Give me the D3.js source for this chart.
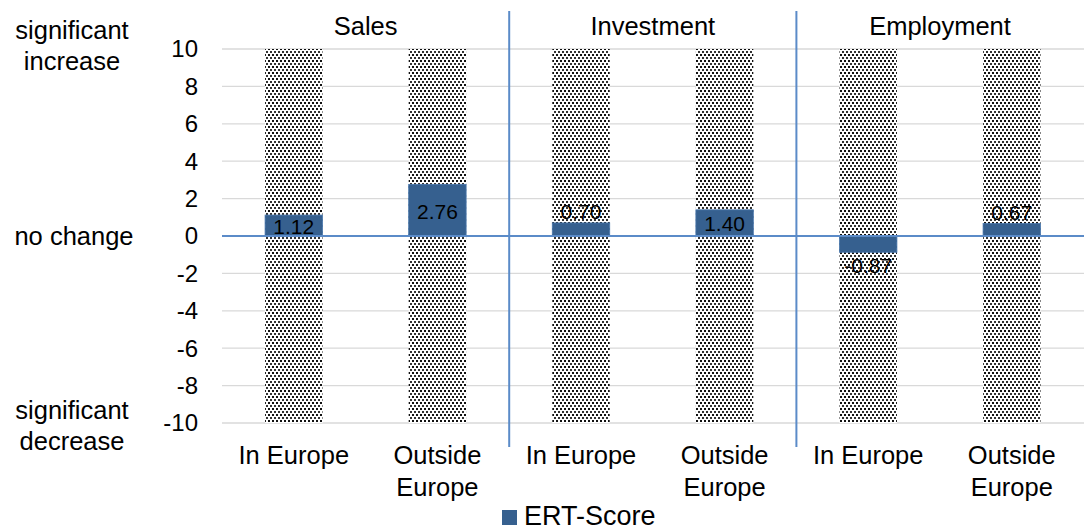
<!DOCTYPE html>
<html>
<head>
<meta charset="utf-8">
<script src="https://cdn.jsdelivr.net/npm/d3@7"></script>
<style>
  html, body { margin: 0; padding: 0; background: #fff; }
  svg { display: block; font-family: "Liberation Sans", Arial, sans-serif; }
</style>
</head>
<body>
<svg id="chart" width="1084" height="528"></svg>
<script>
// ERT scores by indicator and region
const groups = ["Sales", "Investment", "Employment"];
const categories = ["In Europe", "Outside Europe", "In Europe", "Outside Europe", "In Europe", "Outside Europe"];
const categoryGroup = ["Sales", "Sales", "Investment", "Investment", "Employment", "Employment"];
const scores = [1.12, 2.76, 0.70, 1.40, -0.87, 0.67];
const yTicks = [10, 8, 6, 4, 2, 0, -2, -4, -6, -8, -10];
const sideLabels = [
  { value: 10, lines: ["significant", "increase"] },
  { value: 0, lines: ["no change"] },
  { value: -10, lines: ["significant", "decrease"] }
];
const seriesName = "ERT-Score";

const svg = d3.select("#chart");
const margin = { left: 222 };
const blue = "#36608f";
const axisBlue = "#5b8bc8";

const x = d3.scaleBand()
  .domain(d3.range(categories.length))
  .range([margin.left, 1083.6])
  .paddingInner(0.6).paddingOuter(0.3);
const y = d3.scaleLinear().domain([-10, 10]).range([423, 49]);

// dotted fill for the full-range background columns
const defs = svg.append("defs");
const pat = defs.append("pattern")
  .attr("id", "dots").attr("patternUnits", "userSpaceOnUse")
  .attr("width", 4).attr("height", 6);
pat.append("rect").attr("width", 4).attr("height", 6).attr("fill", "#fff");
pat.append("rect").attr("x", 0).attr("y", 0).attr("width", 2).attr("height", 2).attr("fill", "#111");
pat.append("rect").attr("x", 2).attr("y", 3).attr("width", 2).attr("height", 2).attr("fill", "#333");

// horizontal gridlines
svg.append("g").selectAll("line").data(yTicks.filter(d => d !== 0)).join("line")
  .attr("x1", margin.left).attr("x2", 1084)
  .attr("y1", d => y(d)).attr("y2", d => y(d))
  .attr("stroke", "#d9d9d9").attr("stroke-width", 1.3);

// y tick labels
svg.append("g").selectAll("text").data(yTicks).join("text")
  .attr("x", 198).attr("y", d => y(d)).attr("dy", "0.35em")
  .attr("text-anchor", "end").attr("font-size", 24).attr("fill", "#000")
  .text(d => d);

// descriptive labels on the left
sideLabels.forEach(s => {
  const n = s.lines.length;
  const lh = 31;
  const y0 = s.value === 10 ? 30 : s.value === -10 ? 410 : y(s.value);
  s.lines.forEach((l, i) => {
    svg.append("text")
      .attr("x", s.value === 0 ? 74 : 72)
      .attr("y", (n === 1 ? y0 : y0 + i * lh))
      .attr("dy", "0.35em").attr("text-anchor", "middle")
      .attr("font-size", 25.5).attr("fill", "#000").text(l);
  });
});

// background columns spanning the full scale
svg.append("g").selectAll("rect").data(scores).join("rect")
  .attr("x", (d, i) => x(i)).attr("width", x.bandwidth())
  .attr("y", y(10)).attr("height", y(-10) - y(10))
  .attr("fill", "url(#dots)");

// score bars
svg.append("g").selectAll("rect").data(scores).join("rect")
  .attr("x", (d, i) => x(i)).attr("width", x.bandwidth())
  .attr("y", d => y(Math.max(0, d)))
  .attr("height", d => Math.abs(y(d) - y(0)))
  .attr("fill", blue).attr("stroke", "#4a78ad").attr("stroke-width", 0.8);

// zero line
svg.append("line")
  .attr("x1", margin.left).attr("x2", 1084)
  .attr("y1", y(0)).attr("y2", y(0))
  .attr("stroke", axisBlue).attr("stroke-width", 2);

// group separators
const step = x.step();
[1, 2].forEach(k => {
  const xs = x(2 * k) - x.paddingInner() * step / 2;
  svg.append("line")
    .attr("x1", xs).attr("x2", xs).attr("y1", 11).attr("y2", 447)
    .attr("stroke", axisBlue).attr("stroke-width", 2);
});

// group titles
groups.forEach(g => {
  const idx = categoryGroup.map((c, i) => c === g ? i : -1).filter(i => i >= 0);
  const cx = d3.mean(idx, i => x(i) + x.bandwidth() / 2);
  svg.append("text").attr("x", cx).attr("y", 26).attr("dy", "0.35em")
    .attr("text-anchor", "middle").attr("font-size", 25.5).attr("fill", "#000").text(g);
});

// value labels: centred in the bar, or just beyond its end when the bar is short
svg.append("g").selectAll("text").data(scores).join("text")
  .attr("x", (d, i) => x(i) + x.bandwidth() / 2)
  .attr("y", d => {
    const h = Math.abs(y(d) - y(0));
    if (h >= 20) return (y(d) + y(0)) / 2 + 1;
    return d >= 0 ? y(d) - 11 : y(d) + 13;
  })
  .attr("dy", "0.35em").attr("text-anchor", "middle")
  .attr("font-size", 21).attr("fill", "#000")
  .text(d => d.toFixed(2));

// category labels
svg.append("g").selectAll("text").data(categories).join("text")
  .attr("text-anchor", "middle").attr("font-size", 25.5).attr("fill", "#000")
  .each(function(d, i) {
    const cx = x(i) + x.bandwidth() / 2;
    const words = d === "In Europe" ? [d] : d.split(" ");
    words.forEach((w, j) => {
      d3.select(this).append("tspan").attr("x", cx).attr("y", 455 + j * 32)
        .attr("dy", "0.35em").text(w);
    });
  });

// legend
svg.append("rect").attr("x", 502).attr("y", 510).attr("width", 15).attr("height", 15).attr("fill", blue);
svg.append("text").attr("x", 524).attr("y", 516).attr("dy", "0.35em")
  .attr("font-size", 27).attr("fill", "#000").text(seriesName);
</script>
</body>
</html>
